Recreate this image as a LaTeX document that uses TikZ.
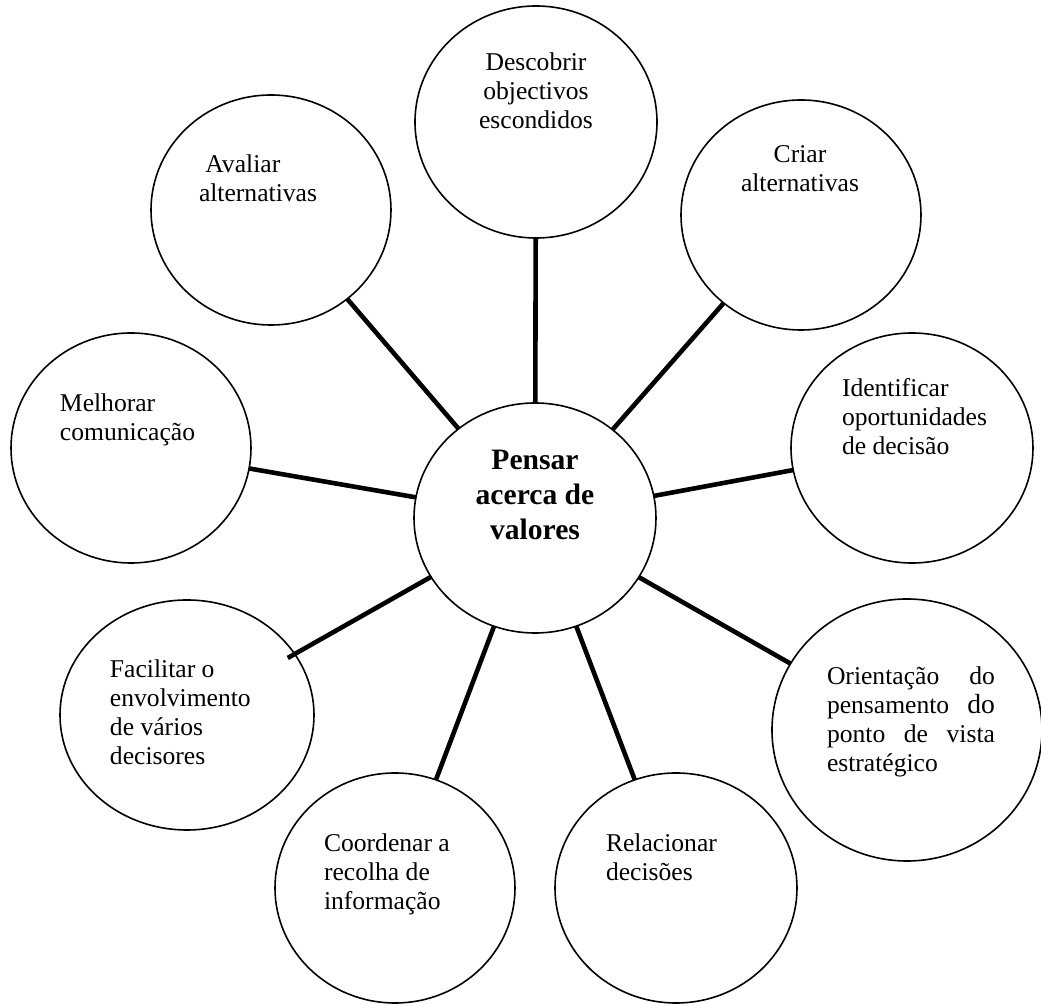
\documentclass[tikz,border=0pt]{standalone}
\usepackage{fontspec}
\setmainfont{Liberation Serif}
\usetikzlibrary{shapes.geometric}

\begin{document}
\begin{tikzpicture}[x=0.5pt,y=-0.5pt,
  bubble/.style={ellipse, draw=black, line width=0.8pt, fill=white,
                 inner sep=0pt, outer sep=0pt},
  spoke/.style={line width=2.3pt, line cap=butt},
  label/.style={inner sep=0pt, outer sep=0pt,
                font={\fontsize{12.8pt}{14.4pt}\selectfont}},
  hub/.style={inner sep=0pt, outer sep=0pt,
              font={\fontsize{14.8pt}{17.5pt}\selectfont\bfseries}}]
\clip (0,0) rectangle (1041,1004);

% bubbles (sizes in pt: width = horizontal radius, height = vertical radius, in px)
\node[bubble, minimum width=121pt, minimum height=115pt] (ctr)    at (535,518) {};
\node[bubble, minimum width=121pt, minimum height=116pt] (desc)   at (536,122) {};
\node[bubble, minimum width=120pt, minimum height=115pt] (aval)   at (271,210) {};
\node[bubble, minimum width=120pt, minimum height=115pt] (criar)  at (801,215) {};
\node[bubble, minimum width=120pt, minimum height=115pt] (melh)   at (131,448) {};
\node[bubble, minimum width=121pt, minimum height=115pt] (ident)  at (912,448) {};
\node[bubble, minimum width=127pt, minimum height=115pt] (facil)  at (187,715) {};
\node[bubble, minimum width=135pt, minimum height=131pt] (orient) at (907,730) {};
\node[bubble, minimum width=120pt, minimum height=115pt] (coord)  at (395,888) {};
\node[bubble, minimum width=121pt, minimum height=115pt] (relac)  at (676,888) {};

% spokes from the hub to each bubble
\draw[spoke] (ctr) -- (desc);
\draw[spoke] (ctr) -- (aval);
\draw[spoke] (ctr) -- (criar);
\draw[spoke] (ctr) -- (melh);
\draw[spoke] (ctr) -- (ident);
\draw[spoke, shorten >=-4pt] (ctr) -- (facil);
\draw[spoke] (ctr) -- (orient);
\draw[spoke] (ctr) -- (coord);
\draw[spoke] (ctr) -- (relac);

% texts (anchored on the baseline of their last line)
\node[hub, align=center, anchor=base] (tctr) at (535,540)
  {Pensar\\acerca de\\valores};
\node[label, align=center, anchor=base] (tdesc) at (536,128.6)
  {Descobrir\\objectivos\\escondidos};
\node[label, align=left, anchor=base west] (taval) at (199,201.8)
  {\hspace*{3.2pt}Avaliar\\alternativas};
\node[label, align=center, anchor=base] (tcriar) at (800,191.8)
  {Criar\\alternativas};
\node[label, align=left, anchor=base west] (tmelh) at (60,440.8)
  {Melhorar\\comunicação};
\node[label, align=left, anchor=base west] (tident) at (842,454.6)
  {Identificar\\oportunidades\\de decisão};
\node[label, align=left, anchor=base west] (tfacil) at (110,764.4)
  {Facilitar o\\envolvimento\\de vários\\decisores};
\node[label, align=left, anchor=base west] (torient) at (827,771.4)
  {\makebox[84pt][s]{Orientação do}\\
   \makebox[84pt][s]{pensamento {\fontsize{13.8pt}{14.4pt}\selectfont do}}\\
   \makebox[84pt][s]{ponto de vista}\\
   estratégico};
\node[label, align=left, anchor=base west] (tcoord) at (324,909.6)
  {Coordenar a\\recolha de\\informação};
\node[label, align=left, anchor=base west] (trelac) at (606,880.8)
  {Relacionar\\decisões};
\end{tikzpicture}
\end{document}
